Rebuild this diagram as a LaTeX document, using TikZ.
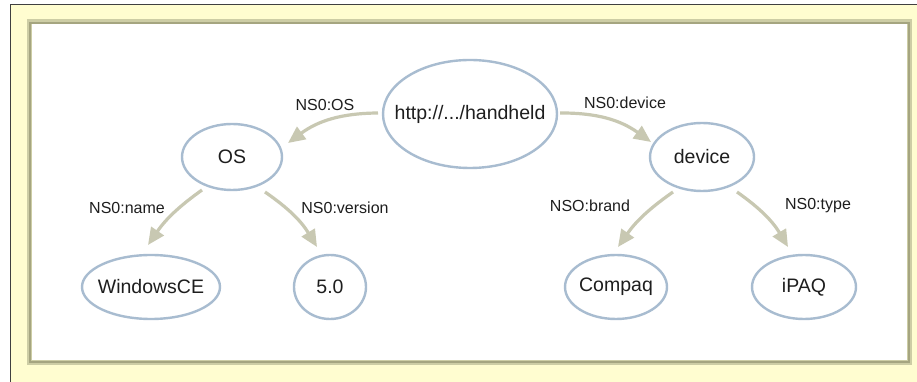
\documentclass[tikz,border=0pt]{standalone}
\usepackage{fontspec}
\setmainfont{Liberation Sans}
\usetikzlibrary{shapes.geometric,arrows.meta}
\definecolor{paper}{RGB}{255,253,208}
\definecolor{frameA}{RGB}{205,205,165}
\definecolor{frameB}{RGB}{165,165,128}
\definecolor{nodeline}{RGB}{168,188,208}
\definecolor{arrowcol}{RGB}{200,200,178}
\definecolor{txt}{RGB}{30,30,30}
\tikzset{
  res/.style={ellipse, draw=nodeline, line width=2.4pt, fill=white, inner sep=-25pt,
    text=txt, font=\fontsize{19.5}{22}\selectfont},
  prop/.style={text=txt, font=\fontsize{16}{18}\selectfont, inner sep=1pt},
  rel/.style={draw=arrowcol, line width=3.2pt,
    -{Triangle[length=17pt,width=15pt]}}
}
\begin{document}
\begin{tikzpicture}[x=1pt,y=1pt]
\useasboundingbox (0,0) rectangle (917,382);
\clip (0,0) rectangle (917,382);
\fill[white] (0,0) rectangle (917,382);
\draw[fill=paper, draw=black!75, line width=1.5pt] (10.5,-10) rectangle (930,377.5);
\draw[fill=white, draw=frameA, line width=5pt] (29,19) rectangle (909.5,360);
\draw[draw=frameB, line width=2pt] (30,20) rectangle (908.5,359);

\node[res, minimum width=174pt, minimum height=108pt] (hh) at (470,268) {http://.../handheld};
\node[res, minimum width=100pt, minimum height=66pt] (os) at (232,225) {OS};
\node[res, minimum width=104pt, minimum height=68pt] (dev) at (702,225) {device};
\node[res, minimum width=138pt, minimum height=64pt] (win) at (151,95) {WindowsCE};
\node[res, minimum width=72pt, minimum height=64pt] (ver) at (330,95) {5.0};
\node[res, minimum width=102pt, minimum height=64pt] (cpq) at (616,95) {Compaq};
\node[res, minimum width=104pt, minimum height=64pt] (ipaq) at (804,95) {iPAQ};

\draw[rel] ([shift={(-92,1)}]hh.center) to[bend right=18] ([shift={(56,14)}]os.center);
\draw[rel] ([shift={(90,1)}]hh.center) to[bend left=18] ([shift={(-51,15)}]dev.center);
\draw[rel] ([shift={(-30,-33)}]os.center) to[bend right=10] ([shift={(-3,42)}]win.center);
\draw[rel] ([shift={(33,-35)}]os.center) to[bend left=12] ([shift={(-13,40)}]ver.center);
\draw[rel] ([shift={(-29,-35)}]dev.center) to[bend right=10] ([shift={(2,40)}]cpq.center);
\draw[rel] ([shift={(35,-35)}]dev.center) to[bend left=12] ([shift={(-16,40)}]ipaq.center);

\node[prop] (l1) at (325,277) {NS0:OS};
\node[prop] (l2) at (625,279) {NS0:device};
\node[prop] (l3) at (127,174) {NS0:name};
\node[prop] (l4) at (345,174) {NS0:version};
\node[prop] (l5) at (590,176) {NSO:brand};
\node[prop] (l6) at (818,176) {NS0:type};
\end{tikzpicture}
\end{document}
